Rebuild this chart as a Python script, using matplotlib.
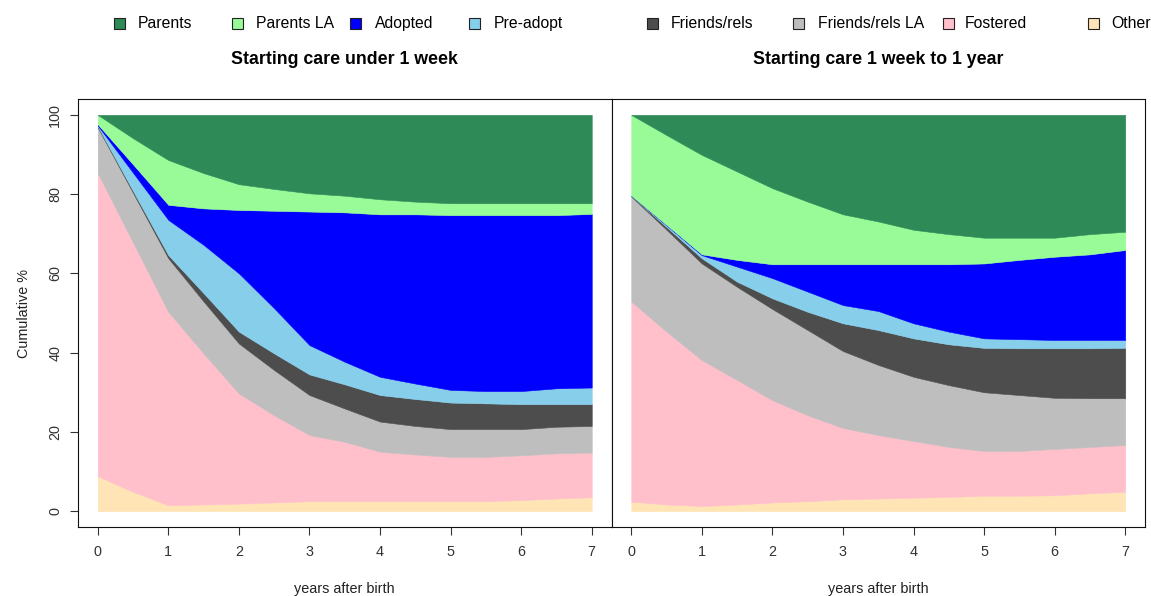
import numpy as np
import matplotlib
matplotlib.use('Agg')
import matplotlib.pyplot as plt
from matplotlib.patches import Rectangle

plt.rcParams['font.family'] = ['Liberation Sans', 'DejaVu Sans']

# years after birth (half-year steps)
years = [0, 0.5, 1, 1.5, 2, 2.5, 3, 3.5, 4, 4.5, 5, 5.5, 6, 6.5, 7]

# stacking order, bottom to top
categories = ['Other', 'Fostered', 'Friends/rels LA', 'Friends/rels',
              'Pre-adopt', 'Adopted', 'Parents LA', 'Parents']
colours = ['#FFE4B5', '#FFC0CB', '#BEBEBE', '#4D4D4D',
           '#87CEEB', '#0000FF', '#98FB98', '#2E8B57']

# panel 1: starting care under 1 week (% of children)
week_other     = [8.8, 4.9, 1.5, 1.7, 1.9, 2.2, 2.5, 2.5, 2.5, 2.5, 2.5, 2.5, 2.8, 3.2, 3.5]
week_fostered  = [76.5, 62.9, 48.8, 38.1, 27.8, 22.0, 16.7, 15.0, 12.5, 11.8, 11.2, 11.2, 11.3, 11.4, 11.3]
week_friendsla = [11.5, 12.5, 13.5, 13.1, 12.6, 11.4, 10.1, 8.4, 7.6, 7.2, 7.0, 7.0, 6.6, 6.7, 6.7]
week_friends   = [0.3, 0.5, 0.8, 2.1, 3.0, 4.2, 5.2, 6.1, 6.7, 6.8, 6.7, 6.5, 6.3, 5.7, 5.5]
week_preadopt  = [0.2, 4.6, 8.9, 12.2, 14.7, 11.4, 7.4, 5.7, 4.6, 3.9, 3.2, 3.1, 3.3, 4.0, 4.2]
week_adopted   = [0.3, 2.1, 3.8, 9.2, 16.0, 24.6, 33.7, 37.7, 41.0, 42.7, 44.1, 44.4, 44.4, 43.7, 43.8]
week_parentsla = [2.4, 6.6, 11.3, 8.9, 6.5, 5.5, 4.6, 4.2, 3.8, 3.2, 3.0, 3.0, 3.0, 3.0, 2.7]
week_parents   = [0.0, 5.9, 11.4, 14.7, 17.5, 18.7, 19.8, 20.4, 21.3, 21.9, 22.3, 22.3, 22.3, 22.3, 22.3]

# panel 2: starting care 1 week to 1 year
year_other     = [2.4, 1.7, 1.3, 1.7, 2.2, 2.5, 3.0, 3.2, 3.4, 3.6, 3.9, 3.9, 4.0, 4.5, 4.9]
year_fostered  = [50.5, 43.6, 36.8, 31.4, 25.8, 21.7, 18.0, 16.0, 14.3, 12.6, 11.3, 11.3, 11.7, 11.7, 11.8]
year_friendsla = [26.5, 25.7, 24.4, 23.5, 23.0, 21.5, 19.4, 17.7, 16.2, 15.6, 14.8, 14.1, 12.9, 12.3, 11.8]
year_friends   = [0.2, 0.7, 1.3, 1.3, 2.7, 4.6, 7.0, 8.8, 9.7, 10.3, 11.2, 11.8, 12.5, 12.6, 12.7]
year_preadopt  = [0.0, 0.4, 0.8, 3.8, 5.1, 5.1, 4.6, 4.8, 3.8, 3.2, 2.4, 2.3, 2.1, 2.1, 2.0]
year_adopted   = [0.0, 0.1, 0.2, 1.7, 3.5, 6.9, 10.3, 11.8, 14.9, 17.0, 18.9, 20.0, 21.0, 21.6, 22.7]
year_parentsla = [20.4, 22.7, 25.1, 22.3, 19.2, 15.8, 12.6, 10.8, 8.7, 7.6, 6.5, 5.6, 4.8, 5.1, 4.6]
year_parents   = [0.0, 5.1, 10.1, 14.3, 18.5, 21.9, 25.1, 26.9, 29.0, 30.1, 31.0, 31.0, 31.0, 30.1, 29.5]

panel1 = [week_other, week_fostered, week_friendsla, week_friends,
          week_preadopt, week_adopted, week_parentsla, week_parents]
panel2 = [year_other, year_fostered, year_friendsla, year_friends,
          year_preadopt, year_adopted, year_parentsla, year_parents]
titles = ['Starting care under 1 week', 'Starting care 1 week to 1 year']

W, H = 1151, 596
fig = plt.figure(figsize=(W / 100, H / 100), dpi=100)


def px_axes(left, top, width, height):
    return fig.add_axes([left / W, 1 - (top + height) / H, width / W, height / H])


ax1 = px_axes(78, 99, 533.5, 428)
ax2 = px_axes(611.5, 99, 533.5, 428)

for ax, data, title in zip([ax1, ax2], [panel1, panel2], titles):
    ax.stackplot(years, *data, colors=colours, edgecolor='face', linewidth=0.4)
    ax.set_xlim(-0.28, 7.28)
    ax.set_ylim(-4, 104)
    ax.set_xticks(range(8))
    ax.tick_params(axis='x', length=5.8, width=0.8, pad=7.5, labelsize=10.4, colors='#333333')
    for s in ax.spines.values():
        s.set_linewidth(0.8)
        s.set_color('#111111')
    ax.text(0.5, 1 + 40 / 428, title, transform=ax.transAxes, ha='center',
            va='center', fontsize=12.8, fontweight='bold')
    ax.text(0.5, -62 / 428, 'years after birth', transform=ax.transAxes,
            ha='center', va='center', fontsize=10.4, color='#222222')

ax1.set_yticks([0, 20, 40, 60, 80, 100])
ax1.tick_params(axis='y', length=5.8, width=0.8, pad=5.5, labelsize=10.4,
                labelrotation=90, colors='#333333')
for lab in ax1.get_yticklabels():
    lab.set_va('center')
ax2.set_yticks([])

fig.text(24 / W, 1 - 313 / H, 'Cumulative %', rotation=90, ha='center',
         va='center', fontsize=10.4, color='#222222')

# legend row across the top
legend_box_x = [114, 232, 350, 469, 647, 793, 943, 1088]
legend_text_x = [138, 256, 375, 494, 671, 818, 965, 1111]
for name, col, bx, tx in zip(categories[::-1], colours[::-1], legend_box_x, legend_text_x):
    fig.patches.append(Rectangle((bx / W, 1 - 29 / H), 11 / W, 11 / H,
                                 transform=fig.transFigure, facecolor=col,
                                 edgecolor='#222222', linewidth=0.8))
    fig.text(tx / W, 1 - 23.5 / H, name, va='center', fontsize=11.3)

fig.savefig('out.png', dpi=100)
